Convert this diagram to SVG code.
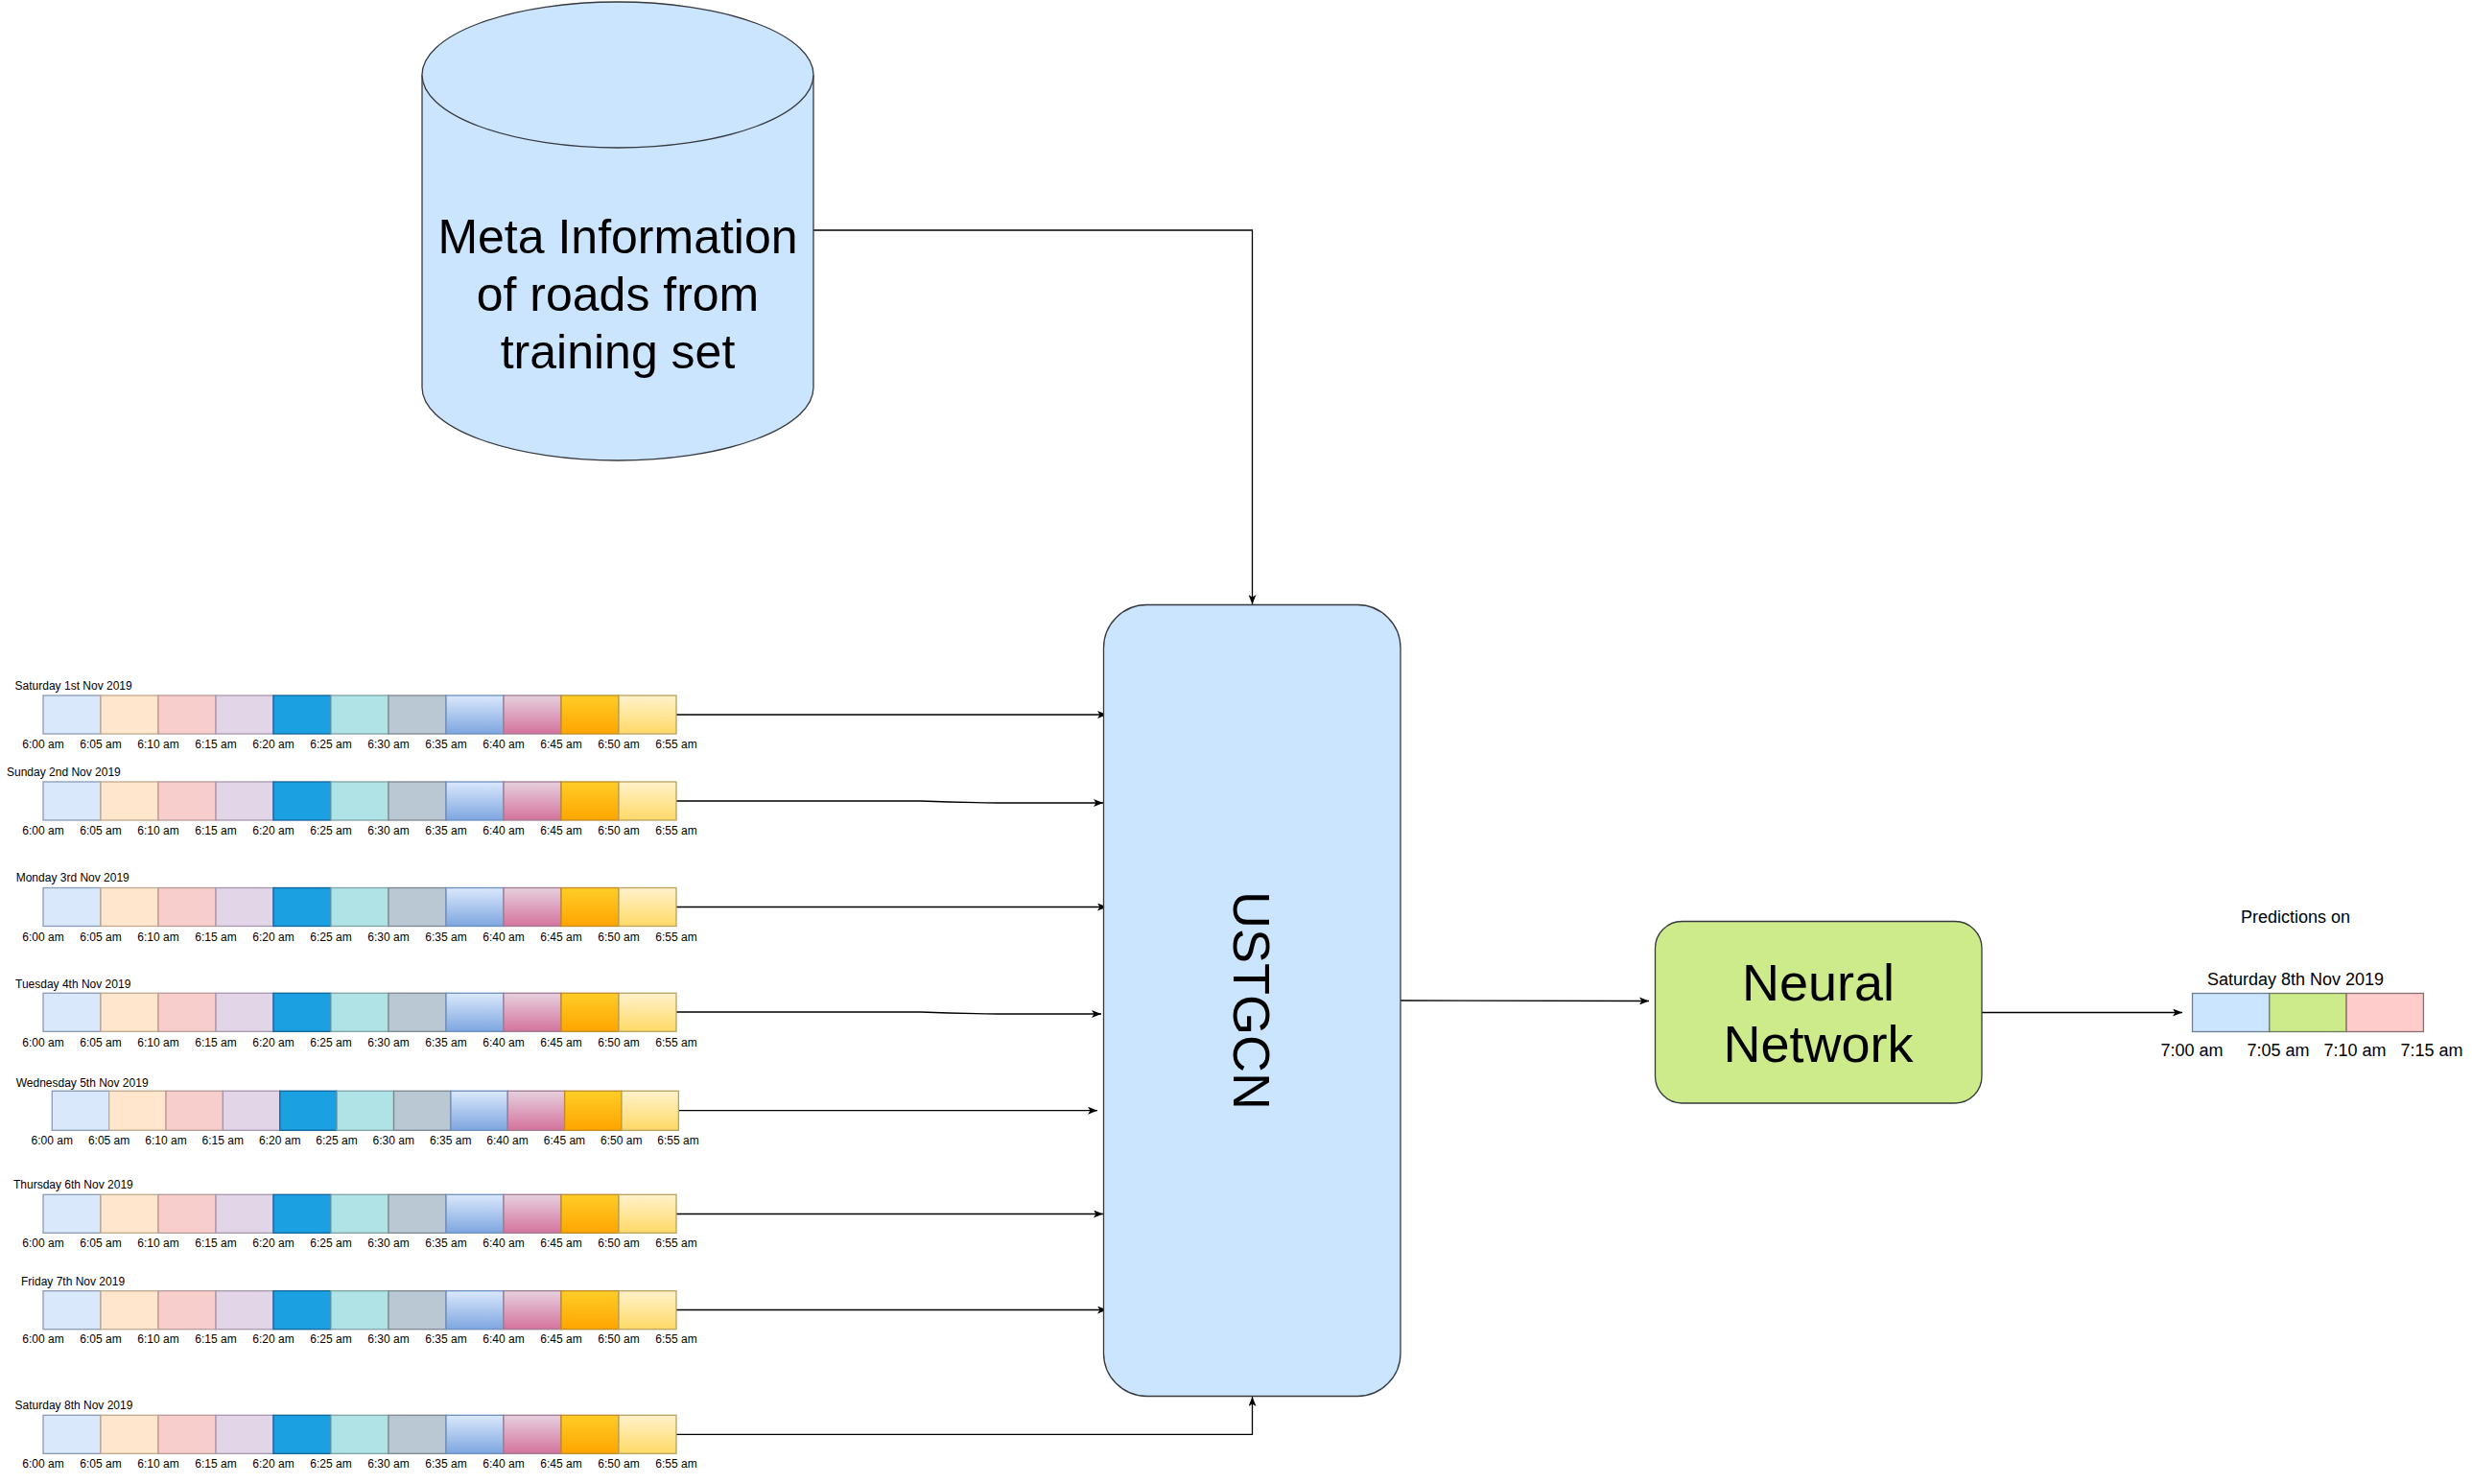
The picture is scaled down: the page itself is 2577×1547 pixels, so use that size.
<svg xmlns="http://www.w3.org/2000/svg" xmlns:xlink="http://www.w3.org/1999/xlink" width="2577" height="1547" viewBox="0 0 2577 1547">
<style>
  .f { font-family: "Liberation Sans", Arial, Helvetica, sans-serif; fill: #000; }
  .s12 { font-size: 12px; }
  .s18 { font-size: 18px; }
  .m { text-anchor: middle; }
  .box { fill: #cce5ff; stroke: #36393d; stroke-width: 1.3; }
  .nn { fill: #cdeb8b; stroke: #36393d; stroke-width: 1.3; }
  .con { fill: none; stroke: #000; stroke-width: 1.3; }
  .c1 { fill: #dae8fc; stroke: #8a9bb5; }
  .c2 { fill: #ffe6cc; stroke: #c0a98e; }
  .c3 { fill: #f8cecc; stroke: #b79a98; }
  .c4 { fill: #e1d5e7; stroke: #a797ad; }
  .c5 { fill: #1ba1e2; stroke: #10639a; }
  .c6 { fill: #b0e3e6; stroke: #7fa4a6; }
  .c7 { fill: #bac8d3; stroke: #7d8790; }
  .c8 { fill: url(#g8); stroke: #6c8ebf; }
  .c9 { fill: url(#g9); stroke: #a07a90; }
  .c10 { fill: url(#g10); stroke: #c08b20; }
  .c11 { fill: url(#g11); stroke: #b8a260; }
  .cells rect { stroke-width: 1.3; }
</style>
<defs>
  <linearGradient id="g8" x1="0" y1="0" x2="0" y2="1"><stop offset="0" stop-color="#dae8fc"/><stop offset="1" stop-color="#7ea6e0"/></linearGradient>
  <linearGradient id="g9" x1="0" y1="0" x2="0" y2="1"><stop offset="0" stop-color="#e6d0de"/><stop offset="1" stop-color="#d5739d"/></linearGradient>
  <linearGradient id="g10" x1="0" y1="0" x2="0" y2="1"><stop offset="0" stop-color="#ffcd28"/><stop offset="1" stop-color="#ffa500"/></linearGradient>
  <linearGradient id="g11" x1="0" y1="0" x2="0" y2="1"><stop offset="0" stop-color="#fff2cc"/><stop offset="1" stop-color="#ffd966"/></linearGradient>
  <marker id="ah" viewBox="0 0 10 8" refX="10" refY="4" markerWidth="10" markerHeight="8" markerUnits="userSpaceOnUse" orient="auto">
    <path d="M0,0 L10,4 L0,8 L2.5,4 Z" fill="#000"/>
  </marker>
  <g id="cells" class="cells">
    <rect class="c1" x="0" y="0" width="60" height="40"/>
    <rect class="c2" x="60" y="0" width="60" height="40"/>
    <rect class="c3" x="120" y="0" width="60" height="40"/>
    <rect class="c4" x="180" y="0" width="60" height="40"/>
    <rect class="c5" x="240" y="0" width="60" height="40"/>
    <rect class="c6" x="300" y="0" width="60" height="40"/>
    <rect class="c7" x="360" y="0" width="60" height="40"/>
    <rect class="c8" x="420" y="0" width="60" height="40"/>
    <rect class="c9" x="480" y="0" width="60" height="40"/>
    <rect class="c10" x="540" y="0" width="60" height="40"/>
    <rect class="c11" x="600" y="0" width="60" height="40"/>
  </g>
</defs>
<rect x="0" y="0" width="2577" height="1547" fill="#ffffff"/>

<g id="connectors">
  <path class="con" d="M848,240 L1305.5,240 L1305.5,630" marker-end="url(#ah)"/>
  <path class="con" d="M705,745 L1154,745" marker-end="url(#ah)"/>
  <path class="con" d="M705,835 L960,835 Q1000,836.5 1040,837 L1150,837" marker-end="url(#ah)"/>
  <path class="con" d="M705,945.5 L1154,945.5" marker-end="url(#ah)"/>
  <path class="con" d="M705,1055 L960,1055 Q1000,1056.5 1040,1057 L1148,1057" marker-end="url(#ah)"/>
  <path class="con" d="M707,1157.7 L1144,1157.7" marker-end="url(#ah)"/>
  <path class="con" d="M705,1265.5 L1150,1265.5" marker-end="url(#ah)"/>
  <path class="con" d="M705,1365.5 L1154,1365.5" marker-end="url(#ah)"/>
  <path class="con" d="M705,1495.3 L1305.5,1495.3 L1305.5,1456" marker-end="url(#ah)"/>
  <path class="con" d="M1460,1043 L1719,1043.5" marker-end="url(#ah)"/>
  <path class="con" d="M2066,1055.5 L2275,1055.5" marker-end="url(#ah)"/>
</g>

<g id="meta">
  <path class="box" d="M440,78 A204,76 0 0 1 848,78 L848,404 A204,76 0 0 1 440,404 Z"/>
  <path class="box" fill="none" d="M440,78 A204,76 0 0 0 848,78"/>
  <text class="f m" font-size="50" x="644" y="264">Meta Information</text>
  <text class="f m" font-size="50" x="644" y="324">of roads from</text>
  <text class="f m" font-size="50" x="644" y="384">training set</text>
</g>

<g id="ustgcn">
  <rect class="box" x="1150.5" y="630.5" width="309.5" height="825" rx="45" ry="45"/>
  <text class="f m" font-size="54" transform="translate(1286,1043) rotate(90)">USTGCN</text>
</g>

<g id="neural-network">
  <rect class="nn" x="1725.5" y="960.5" width="340.5" height="189.5" rx="28" ry="28"/>
  <text class="f m" font-size="54" x="1895.5" y="1043">Neural</text>
  <text class="f m" font-size="54" x="1895.5" y="1107">Network</text>
</g>

<g id="prediction">
  <text class="f s18 m" x="2393" y="962">Predictions on</text>
  <text class="f s18 m" x="2393" y="1027">Saturday 8th Nov 2019</text>
  <rect x="2285.5" y="1035.5" width="80.3" height="40" fill="#cce5ff" stroke="#6f7f90" stroke-width="1.3"/>
  <rect x="2365.8" y="1035.5" width="80.3" height="40" fill="#cdeb8b" stroke="#6f7a60" stroke-width="1.3"/>
  <rect x="2446.1" y="1035.5" width="80.3" height="40" fill="#ffcccc" stroke="#8a6f70" stroke-width="1.3"/>
  <text class="f s18 m" y="1101"><tspan x="2285">7:00 am</tspan><tspan x="2375">7:05 am</tspan><tspan x="2455">7:10 am</tspan><tspan x="2535">7:15 am</tspan></text>
</g>

<g id="day-sat-1">
  <text class="f s12" x="15.6" y="719">Saturday 1st Nov 2019</text>
  <use xlink:href="#cells" href="#cells" transform="translate(45,725)"/>
  <text class="f s12 m" y="779.5"><tspan x="45">6:00 am</tspan><tspan x="105">6:05 am</tspan><tspan x="165">6:10 am</tspan><tspan x="225">6:15 am</tspan><tspan x="285">6:20 am</tspan><tspan x="345">6:25 am</tspan><tspan x="405">6:30 am</tspan><tspan x="465">6:35 am</tspan><tspan x="525">6:40 am</tspan><tspan x="585">6:45 am</tspan><tspan x="645">6:50 am</tspan><tspan x="705">6:55 am</tspan></text>
</g>

<g id="day-sun-2">
  <text class="f s12" x="7" y="809">Sunday 2nd Nov 2019</text>
  <use xlink:href="#cells" href="#cells" transform="translate(45,815)"/>
  <text class="f s12 m" y="869.5"><tspan x="45">6:00 am</tspan><tspan x="105">6:05 am</tspan><tspan x="165">6:10 am</tspan><tspan x="225">6:15 am</tspan><tspan x="285">6:20 am</tspan><tspan x="345">6:25 am</tspan><tspan x="405">6:30 am</tspan><tspan x="465">6:35 am</tspan><tspan x="525">6:40 am</tspan><tspan x="585">6:45 am</tspan><tspan x="645">6:50 am</tspan><tspan x="705">6:55 am</tspan></text>
</g>

<g id="day-mon-3">
  <text class="f s12" x="16.7" y="919">Monday 3rd Nov 2019</text>
  <use xlink:href="#cells" href="#cells" transform="translate(45,925.5)"/>
  <text class="f s12 m" y="980.5"><tspan x="45">6:00 am</tspan><tspan x="105">6:05 am</tspan><tspan x="165">6:10 am</tspan><tspan x="225">6:15 am</tspan><tspan x="285">6:20 am</tspan><tspan x="345">6:25 am</tspan><tspan x="405">6:30 am</tspan><tspan x="465">6:35 am</tspan><tspan x="525">6:40 am</tspan><tspan x="585">6:45 am</tspan><tspan x="645">6:50 am</tspan><tspan x="705">6:55 am</tspan></text>
</g>

<g id="day-tue-4">
  <text class="f s12" x="16" y="1030">Tuesday 4th Nov 2019</text>
  <use xlink:href="#cells" href="#cells" transform="translate(45,1035.3)"/>
  <text class="f s12 m" y="1090.5"><tspan x="45">6:00 am</tspan><tspan x="105">6:05 am</tspan><tspan x="165">6:10 am</tspan><tspan x="225">6:15 am</tspan><tspan x="285">6:20 am</tspan><tspan x="345">6:25 am</tspan><tspan x="405">6:30 am</tspan><tspan x="465">6:35 am</tspan><tspan x="525">6:40 am</tspan><tspan x="585">6:45 am</tspan><tspan x="645">6:50 am</tspan><tspan x="705">6:55 am</tspan></text>
</g>

<g id="day-wed-5">
  <text class="f s12" x="16.7" y="1132.5">Wednesday 5th Nov 2019</text>
  <use xlink:href="#cells" href="#cells" transform="translate(54.3,1137.3) scale(0.9895,1.025)"/>
  <text class="f s12 m" y="1193"><tspan x="54.3">6:00 am</tspan><tspan x="113.6">6:05 am</tspan><tspan x="173">6:10 am</tspan><tspan x="232.3">6:15 am</tspan><tspan x="291.7">6:20 am</tspan><tspan x="351">6:25 am</tspan><tspan x="410.3">6:30 am</tspan><tspan x="469.7">6:35 am</tspan><tspan x="529">6:40 am</tspan><tspan x="588.4">6:45 am</tspan><tspan x="647.7">6:50 am</tspan><tspan x="707">6:55 am</tspan></text>
</g>

<g id="day-thu-6">
  <text class="f s12" x="14" y="1239.3">Thursday 6th Nov 2019</text>
  <use xlink:href="#cells" href="#cells" transform="translate(45,1245.3)"/>
  <text class="f s12 m" y="1299.5"><tspan x="45">6:00 am</tspan><tspan x="105">6:05 am</tspan><tspan x="165">6:10 am</tspan><tspan x="225">6:15 am</tspan><tspan x="285">6:20 am</tspan><tspan x="345">6:25 am</tspan><tspan x="405">6:30 am</tspan><tspan x="465">6:35 am</tspan><tspan x="525">6:40 am</tspan><tspan x="585">6:45 am</tspan><tspan x="645">6:50 am</tspan><tspan x="705">6:55 am</tspan></text>
</g>

<g id="day-fri-7">
  <text class="f s12" x="22" y="1340">Friday 7th Nov 2019</text>
  <use xlink:href="#cells" href="#cells" transform="translate(45,1345.7)"/>
  <text class="f s12 m" y="1399.5"><tspan x="45">6:00 am</tspan><tspan x="105">6:05 am</tspan><tspan x="165">6:10 am</tspan><tspan x="225">6:15 am</tspan><tspan x="285">6:20 am</tspan><tspan x="345">6:25 am</tspan><tspan x="405">6:30 am</tspan><tspan x="465">6:35 am</tspan><tspan x="525">6:40 am</tspan><tspan x="585">6:45 am</tspan><tspan x="645">6:50 am</tspan><tspan x="705">6:55 am</tspan></text>
</g>

<g id="day-sat-8">
  <text class="f s12" x="15.6" y="1469">Saturday 8th Nov 2019</text>
  <use xlink:href="#cells" href="#cells" transform="translate(45,1475.3)"/>
  <text class="f s12 m" y="1529.5"><tspan x="45">6:00 am</tspan><tspan x="105">6:05 am</tspan><tspan x="165">6:10 am</tspan><tspan x="225">6:15 am</tspan><tspan x="285">6:20 am</tspan><tspan x="345">6:25 am</tspan><tspan x="405">6:30 am</tspan><tspan x="465">6:35 am</tspan><tspan x="525">6:40 am</tspan><tspan x="585">6:45 am</tspan><tspan x="645">6:50 am</tspan><tspan x="705">6:55 am</tspan></text>
</g>
</svg>
